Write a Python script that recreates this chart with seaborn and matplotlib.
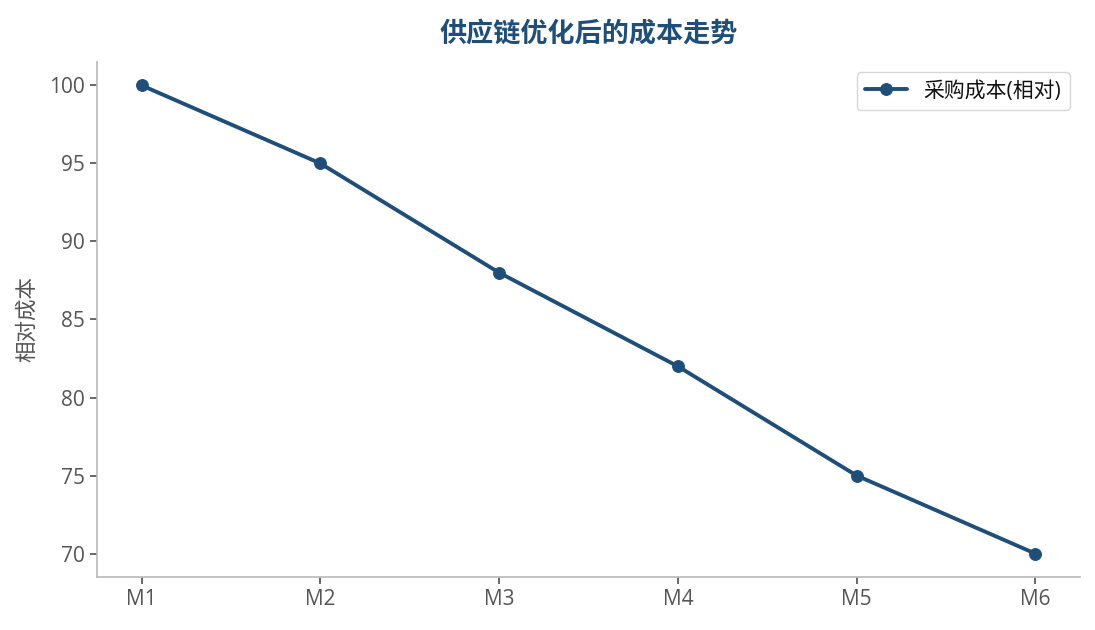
import matplotlib
matplotlib.use("Agg")
import matplotlib.pyplot as plt
import seaborn as sns
import pandas as pd

months = ["M1", "M2", "M3", "M4", "M5", "M6"]
cost = [100, 95, 88, 82, 75, 70]
series_name = "采购成本(相对)"

sns.set_theme(style="ticks")
plt.rcParams['font.family'] = ['Open Sans', 'Noto Sans CJK SC', 'DejaVu Sans']
plt.rcParams['axes.unicode_minus'] = False

df = pd.DataFrame({"month": months, "cost": cost})
line_color = "#1f4e79"

fig = plt.figure(figsize=(10.95, 6.3), dpi=100)
ax = fig.add_axes([97 / 1095, 1 - 577 / 630, (1080 - 97) / 1095, (577 - 62) / 630])
sns.lineplot(data=df, x="month", y="cost", ax=ax, color=line_color, linewidth=2.8,
             marker="o", markersize=8.5, markeredgecolor=line_color, label=series_name, sort=False)

ax.set_xlim(-0.25, 5.25)
ax.set_ylim(68.5, 101.5)
ax.set_xlabel("")
ax.set_ylabel("相对成本", fontsize=15.5, color="#555555", labelpad=8)
ax.set_title("供应链优化后的成本走势", fontsize=19.5, fontweight="bold", color=line_color, pad=14)
ax.tick_params(axis="both", labelsize=15, colors="#555555", length=5)
for s in ["top", "right"]:
    ax.spines[s].set_visible(False)
for s in ["left", "bottom"]:
    ax.spines[s].set_color("#bbbbbb")
leg = ax.legend(loc="upper right", fontsize=15, frameon=True)
leg.get_frame().set_edgecolor("#cccccc")
for t in leg.get_texts():
    t.set_color("#111111")

fig.savefig("out.png", dpi=100)
